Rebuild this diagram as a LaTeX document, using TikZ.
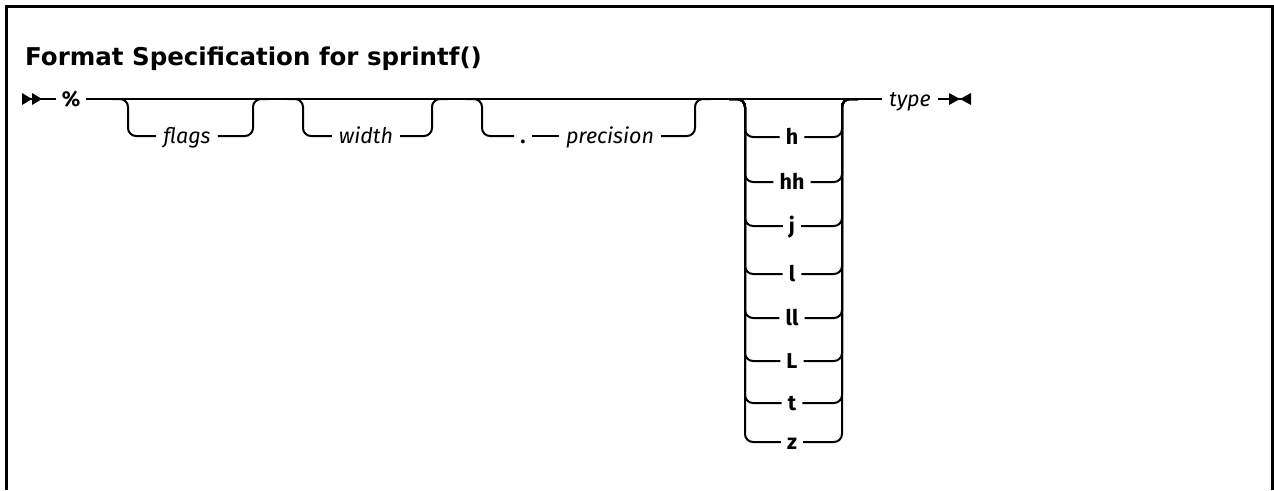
\documentclass[tikz,border=0pt]{standalone}
\usepackage{fontspec}
\setmainfont{Fira Sans}
\newfontfamily\headfont{DejaVu Sans}
\begin{document}
\begin{tikzpicture}[x=1pt,y=-1pt,
  rail/.style={line width=2pt, rounded corners=8pt},
  lbl/.style={inner xsep=7pt, inner ysep=0pt, text height=15pt, text depth=0pt,
    font=\fontsize{21.5}{25}\selectfont\itshape},
  kw/.style={inner xsep=6pt, inner ysep=0pt, text height=15pt, text depth=0pt,
    font=\fontsize{21.5}{25}\selectfont\bfseries},
  tip/.style={fill=black},
  frame/.style={line width=3pt}]
\useasboundingbox (0,0) rectangle (1274,490);

% open frame: left, top and right sides
\draw[frame] (6,490) -- (6,6) -- (1272.5,6) -- (1272.5,490);

\node[anchor=base west, inner sep=0pt, font=\headfont\bfseries\fontsize{24.5}{29}\selectfont]
  (title) at (25,65) {Format Specification for sprintf()};

% main rail
\coordinate (start) at (22,99);
\coordinate (stop) at (971,99);
\node[kw] (pct) at (71,99) {\%};
\node[lbl] (type) at (910,99) {type};

\fill[tip] (22,93) -- (32,99) -- (22,105) -- cycle;
\fill[tip] (32,93) -- (42,99) -- (32,105) -- cycle;
\draw[rail] (start) -- (pct.west);
\draw[rail] (pct.east) -- (type.west);
\draw[rail] (type.east) -- (stop);
\fill[tip] (949,93) -- (960,99) -- (949,105) -- cycle;
\fill[tip] (971,93) -- (960,99) -- (971,105) -- cycle;

% optional: flags
\node[lbl] (flags) at (187,136) {flags};
\draw[rail] (112,99) -- (128,99) -- (128,136) -- (flags.west);
\draw[rail] (flags.east) -- (253,136) -- (253,99) -- (269,99);

% optional: width
\node[lbl] (width) at (366,136) {width};
\draw[rail] (287,99) -- (303,99) -- (303,136) -- (width.west);
\draw[rail] (width.east) -- (432,136) -- (432,99) -- (448,99);

% optional: . precision
\node[kw] (dot) at (523,136) {.};
\node[lbl] (prec) at (610,136) {precision};
\draw[rail] (466,99) -- (482,99) -- (482,136) -- (dot.west);
\draw[rail] (dot.east) -- (prec.west);
\draw[rail] (prec.east) -- (695,136) -- (695,99) -- (711,99);

% optional choice of length modifiers
\foreach \name/\txt/\row in {mh/h/137, mhh/hh/182, mj/j/226, ml/l/274,
                             mll/ll/318, mL/L/361, mt/t/403, mz/z/442} {
  \node[kw] (\name) at (792,\row) {\txt};
  \draw[rail] (729,99) -- (745,99) -- (745,\row) -- (\name.west);
  \draw[rail] (\name.east) -- (842,\row) -- (842,99) -- (858,99);
}
\end{tikzpicture}
\end{document}
